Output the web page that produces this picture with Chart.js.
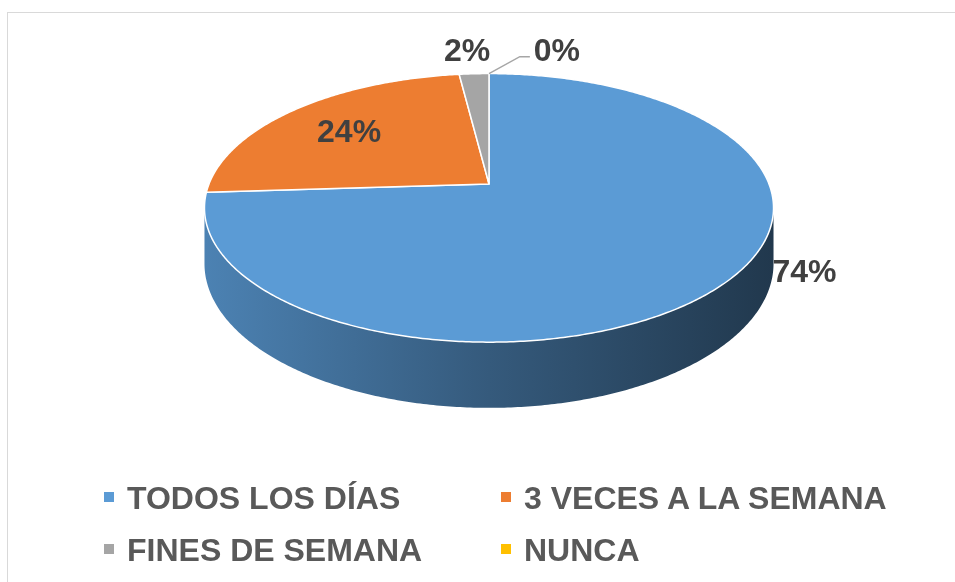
<!DOCTYPE html>
<html><head><meta charset="utf-8">
<script src="https://cdn.jsdelivr.net/npm/chart.js@4/dist/chart.umd.min.js"></script>
<style>
html,body{margin:0;padding:0;background:#fff;width:955px;height:582px;overflow:hidden;}
#wrap{position:relative;width:955px;height:582px;}
#frame{position:absolute;left:7px;top:12px;width:1000px;height:1000px;border:1px solid #D9D9D9;box-sizing:border-box;}
canvas{position:absolute;left:0;top:0;}
.leg{position:absolute;font:bold 32px "Liberation Sans",Arial,sans-serif;color:#595959;line-height:32px;white-space:nowrap;}
.mk{position:absolute;width:10px;height:10px;}
</style></head>
<body><div id="wrap"><div id="frame"></div><canvas id="c" width="955" height="582"></canvas><div id="legend"></div></div>
<script>
// ---- data ----
const categories = ['TODOS LOS DÍAS', '3 VECES A LA SEMANA', 'FINES DE SEMANA', 'NUNCA'];
const percentages = [74, 24, 2, 0];
const valueLabels = ['74%', '24%', '2%', '0%'];
const sliceColors = ['#5B9BD5', '#ED7D31', '#A5A5A5', '#FFC000'];

// ---- 3D look (perspective tilt relative to the pie radius) ----
const TILT = { ax: 1.876, by: 0.8713, depth: 0.362, k: 0.1777 };
// label placement: 'inside' along mid-angle, or offset in units of the projected radii
const LABEL_PLACE = [
  { mode: 'offset', dx: 1.127, dy: 0.666 },
  { mode: 'inside', r: 0.7 },
  { mode: 'offset', dx: -0.078, dy: -1.033 },
  { mode: 'offset', dx: 0.242, dy: -1.033, leader: [[0.110, -0.979], [0.146, -0.979]] }
];

function proj(cx, cy, R, a, r, dz) {
  const u = Math.cos(a) * r, v = Math.sin(a) * r;
  const w = 1 - TILT.k * v;
  return [cx + R * TILT.ax * u / w, cy + (R * TILT.by * v + R * TILT.depth * dz) / w];
}
function hexRgb(h) { const n = parseInt(h.slice(1), 16); return [(n >> 16) & 255, (n >> 8) & 255, n & 255]; }
function shade(h, f) { const c = hexRgb(h).map(x => Math.round(x * f)); return `rgb(${c[0]},${c[1]},${c[2]})`; }

const pie3d = {
  id: 'pie3d',
  beforeDatasetsDraw(chart) {
    const ctx = chart.ctx;
    const meta = chart.getDatasetMeta(0);
    const arcs = meta.data.map(el => el.getProps(['x', 'y', 'startAngle', 'endAngle', 'outerRadius'], true));
    if (!arcs.length) return false;
    const { x: cx, y: cy, outerRadius: R } = arcs[0];
    const aL = Math.asin(TILT.k), aR = Math.PI - aL;
    const step = 0.01;
    // side walls
    arcs.forEach((a, i) => {
      const col = meta.data[i].options.backgroundColor;
      [0, 2 * Math.PI, -2 * Math.PI].forEach(off => {
        const s = Math.max(a.startAngle, aL + off), e = Math.min(a.endAngle, aR + off);
        if (e - s <= 1e-6) return;
        ctx.save();
        ctx.beginPath();
        const n = Math.max(2, Math.ceil((e - s) / step));
        for (let j = 0; j <= n; j++) {
          const p = proj(cx, cy, R, s + (e - s) * j / n, 1, 0);
          j ? ctx.lineTo(p[0], p[1]) : ctx.moveTo(p[0], p[1]);
        }
        for (let j = n; j >= 0; j--) {
          const p = proj(cx, cy, R, s + (e - s) * j / n, 1, 1);
          ctx.lineTo(p[0], p[1]);
        }
        ctx.closePath();
        const g = ctx.createLinearGradient(cx - R * TILT.ax * 1.02, 0, cx + R * TILT.ax * 1.02, 0);
        g.addColorStop(0, shade(col, 0.84));
        g.addColorStop(0.5, shade(col, 0.58));
        g.addColorStop(1, shade(col, 0.36));
        ctx.fillStyle = g;
        ctx.fill();
        ctx.restore();
      });
    });
    // top faces
    arcs.forEach((a, i) => {
      if (a.endAngle - a.startAngle <= 1e-6) return;
      const opts = meta.data[i].options;
      ctx.save();
      ctx.beginPath();
      ctx.moveTo(cx, cy);
      const n = Math.max(2, Math.ceil((a.endAngle - a.startAngle) / step));
      for (let j = 0; j <= n; j++) {
        const p = proj(cx, cy, R, a.startAngle + (a.endAngle - a.startAngle) * j / n, 1, 0);
        ctx.lineTo(p[0], p[1]);
      }
      ctx.closePath();
      ctx.fillStyle = opts.backgroundColor;
      ctx.fill();
      ctx.lineJoin = 'round';
      ctx.strokeStyle = opts.borderColor;
      ctx.lineWidth = opts.borderWidth;
      ctx.stroke();
      ctx.restore();
    });
    return false;
  },
  afterDraw(chart) {
    const ctx = chart.ctx;
    const meta = chart.getDatasetMeta(0);
    meta.data.forEach((el, i) => {
      const a = el.getProps(['x', 'y', 'startAngle', 'endAngle', 'outerRadius'], true);
      const cx = a.x, cy = a.y, R = a.outerRadius;
      const A = R * TILT.ax, B = R * TILT.by;
      const pl = LABEL_PLACE[i];
      let px, py;
      if (pl.mode === 'inside') {
        [px, py] = proj(cx, cy, R, (a.startAngle + a.endAngle) / 2, pl.r, 0);
      } else {
        px = cx + pl.dx * A; py = cy + pl.dy * B;
      }
      ctx.save();
      if (pl.leader) {
        const p0 = proj(cx, cy, R, (a.startAngle + a.endAngle) / 2, 1, 0);
        ctx.beginPath();
        ctx.moveTo(p0[0], p0[1]);
        pl.leader.forEach(q => ctx.lineTo(cx + q[0] * A, cy + q[1] * B));
        ctx.strokeStyle = '#A6A6A6';
        ctx.lineWidth = 1.5;
        ctx.stroke();
      }
      ctx.font = 'bold 32px "Liberation Sans", Arial, sans-serif';
      ctx.fillStyle = '#404040';
      ctx.textAlign = 'center';
      ctx.textBaseline = 'alphabetic';
      ctx.fillText(valueLabels[i], px, py + 11.5);
      ctx.restore();
    });
  }
};

new Chart(document.getElementById('c'), {
  type: 'pie',
  data: {
    labels: categories,
    datasets: [{ data: percentages, backgroundColor: sliceColors, borderColor: '#FFFFFF', borderWidth: 1.5 }]
  },
  options: {
    responsive: false,
    animation: false,
    layout: { padding: { left: 339, right: 316, top: 34, bottom: 248 } },
    plugins: { legend: { display: false }, tooltip: { enabled: false } }
  },
  plugins: [pie3d]
});

// legend (two columns)
const legend = document.getElementById('legend');
const colX = [104, 501], rowY = [497, 549];
categories.forEach((name, i) => {
  const x = colX[i % 2], y = rowY[Math.floor(i / 2)];
  const mk = document.createElement('div');
  mk.className = 'mk';
  mk.style.left = x + 'px'; mk.style.top = (y - 5) + 'px';
  mk.style.background = sliceColors[i];
  legend.appendChild(mk);
  const t = document.createElement('div');
  t.className = 'leg';
  t.style.left = (x + 23) + 'px'; t.style.top = (y - 15.5) + 'px';
  t.textContent = name;
  legend.appendChild(t);
});
</script>
</body></html>
